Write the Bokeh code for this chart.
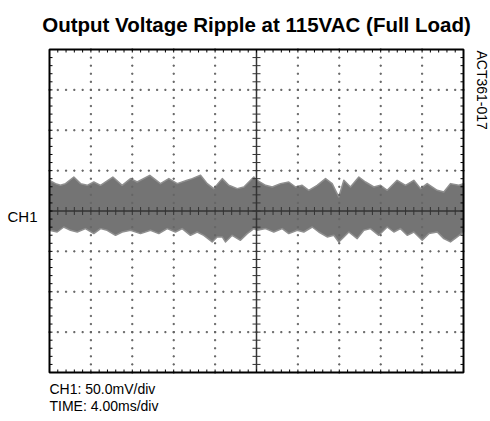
import numpy as np
from bokeh.plotting import figure
from bokeh.models import Range1d, Label
from bokeh.embed import file_html
from bokeh.resources import INLINE

# ---- texts ----
title_text = "Output Voltage Ripple at 115VAC (Full Load)"
ch_label = "CH1"
id_label = "ACT361-017"
scale_lines = ["CH1: 50.0mV/div", "TIME: 4.00ms/div"]

# ---- scope settings ----
ms_per_div = 4.0
mv_per_div = 50.0
x_divs = 10
y_divs = 8
sub_divs = 5

# ---- ripple envelope (time in ms, voltage in mV) ----
top_t = [0.0, 0.58, 1.06, 1.55, 2.35, 3.00, 3.64, 4.28, 4.93, 6.12, 7.02, 7.83, 8.47, 9.69,
         10.72, 11.53, 12.34, 13.30, 13.79, 14.59, 15.24, 15.87, 16.69, 17.32, 18.14, 18.78,
         19.74, 20.07, 20.87, 21.52, 22.32, 23.12, 23.77, 24.41, 25.05, 25.86, 26.67, 27.31,
         27.95, 28.44, 29.08, 29.89, 30.53, 31.34, 31.98, 32.63, 33.59, 34.40, 35.20, 35.85,
         36.49, 37.46, 38.10, 38.74, 39.55, 40.0]
top_mv = [38.0, 33.9, 31.8, 33.9, 42.1, 33.9, 31.8, 35.9, 31.8, 42.1, 31.8, 40.1, 35.9, 44.2,
          33.9, 40.1, 33.9, 38.0, 40.1, 44.2, 33.9, 27.7, 40.1, 31.8, 27.7, 29.7,
          42.1, 38.0, 31.8, 29.7, 33.9, 35.9, 29.7, 31.8, 25.6, 31.8, 40.1, 33.9,
          17.3, 38.0, 29.7, 42.1, 35.9, 29.7, 31.8, 25.6, 38.0, 31.8, 38.0, 27.7,
          33.9, 25.6, 23.5, 33.9, 31.8, 33.9]
bot_t = [0.0, 0.74, 1.38, 2.03, 2.68, 3.48, 4.28, 4.93, 5.57, 6.38, 7.02, 7.83, 8.79, 9.76,
         10.56, 11.37, 12.17, 12.82, 13.62, 14.27, 14.91, 15.72, 16.20, 16.69, 17.00, 17.65,
         18.45, 19.10, 19.74, 20.07, 20.87, 21.67, 22.48, 23.12, 23.93, 24.57, 25.38, 26.02,
         26.83, 27.47, 27.95, 28.44, 28.92, 29.73, 30.37, 31.01, 31.82, 32.63, 33.27, 33.91,
         34.56, 35.20, 36.01, 36.65, 37.46, 38.10, 38.74, 39.39, 40.0]
bot_mv = [-23.9, -26.0, -19.8, -23.9, -26.0, -21.8, -28.0, -21.8, -23.9, -30.1, -26.0, -23.9,
          -28.0, -23.9, -28.0, -21.8, -26.0, -21.8, -30.1, -26.0, -30.1, -38.3, -32.1, -32.1,
          -38.3, -30.1, -36.3, -28.0, -21.8, -23.9, -21.8, -26.0, -21.8, -28.0, -23.9, -26.0,
          -19.8, -26.0, -32.1, -30.1, -38.3, -32.1, -26.0, -34.2, -23.9, -21.8, -30.1, -19.8,
          -26.0, -21.8, -30.1, -26.0, -36.3, -28.0, -26.0, -34.2, -38.3, -32.1, -26.0]

FONT = "Liberation Sans"
W, H = 490, 421
# graticule box inside the canvas (pixels)
GL, GT, GW, GH = 49, 49, 414, 323

x_max = ms_per_div * x_divs
y_half = mv_per_div * y_divs / 2
px_x = GW / x_max          # pixels per ms
px_y = GH / (2 * y_half)   # pixels per mV

x_start = -GL / px_x
x_end = x_max + (W - GL - GW) / px_x
y_end = y_half + GT / px_y
y_start = -y_half - (H - GT - GH) / px_y

p = figure(width=W, height=H, output_backend="svg", toolbar_location=None,
           x_range=Range1d(x_start, x_end), y_range=Range1d(y_start, y_end),
           x_axis_location=None, y_axis_location=None,
           min_border_left=0, min_border_right=0, min_border_top=0, min_border_bottom=0)
p.grid.visible = False
p.outline_line_color = None
p.background_fill_color = "white"
p.border_fill_color = "white"

# ---- waveform band ----
xs = list(top_t) + list(reversed(bot_t))
ys = list(top_mv) + list(reversed(bot_mv))
p.patch(xs, ys, fill_color="#747474", line_color="#8f8f8f", line_width=1.5, line_join="round")

# ---- graticule: dotted division lines ----
sx = ms_per_div / sub_divs
sy = mv_per_div / sub_divs
dot_x, dot_y = [], []
for i in range(1, x_divs):
    if i == x_divs // 2:
        continue
    for yy in np.arange(-y_half, y_half + 1e-9, sy):
        dot_x.append(i * ms_per_div)
        dot_y.append(yy)
for j in range(1, y_divs):
    if j == y_divs // 2:
        continue
    for xx in np.arange(0, x_max + 1e-9, sx):
        dot_x.append(xx)
        dot_y.append(-y_half + j * mv_per_div)
p.rect(dot_x, dot_y, width=1.2, height=1.2, width_units="screen", height_units="screen",
       color="#666666")

# ---- center axes ----
p.segment(x0=[0, x_max / 2], y0=[0, -y_half], x1=[x_max, x_max / 2], y1=[0, y_half],
          line_color="#333333", line_width=1.5)

tick_half = 4
tx = np.arange(0, x_max + 1e-9, sx)
ty = np.arange(-y_half, y_half + 1e-9, sy)
p.segment(x0=tx, y0=-tick_half / px_y, x1=tx, y1=tick_half / px_y, line_color="#333333", line_width=1)
p.segment(x0=x_max / 2 - tick_half / px_x, y0=ty, x1=x_max / 2 + tick_half / px_x, y1=ty,
          line_color="#333333", line_width=1)

# ---- border ticks (inward) ----
bt = 3
p.segment(x0=tx, y0=y_half, x1=tx, y1=y_half - bt / px_y, line_color="black", line_width=1)
p.segment(x0=tx, y0=-y_half, x1=tx, y1=-y_half + bt / px_y, line_color="black", line_width=1)
p.segment(x0=0, y0=ty, x1=bt / px_x, y1=ty, line_color="black", line_width=1)
p.segment(x0=x_max, y0=ty, x1=x_max - bt / px_x, y1=ty, line_color="black", line_width=1)

# ---- graticule border ----
p.quad(left=0, right=x_max, bottom=-y_half, top=y_half, fill_color=None,
       line_color="black", line_width=2)

# ---- labels ----
p.add_layout(Label(x=x_max / 2, y=y_half + 25 / px_y, text=title_text, text_align="center",
                   text_baseline="alphabetic", text_font=FONT, text_font_size="20.5px",
                   text_font_style="bold", text_color="black"))
p.add_layout(Label(x=-12 / px_x, y=-5 / px_y, text=ch_label, text_align="right",
                   text_baseline="alphabetic", text_font=FONT, text_font_size="15px",
                   text_color="black"))
p.add_layout(Label(x=x_max + 18 / px_x, y=y_half - 1 / px_y, text=id_label, text_align="left",
                   text_baseline="middle", angle=-np.pi / 2, text_font=FONT,
                   text_font_size="14px", text_color="black"))
for k, line in enumerate(scale_lines):
    p.add_layout(Label(x=0, y=-y_half - (16 + 17 * k) / px_y, text=line, text_align="left",
                       text_baseline="alphabetic", text_font=FONT, text_font_size="14px",
                       text_color="black"))

open("out.html", "w").write(file_html(p, INLINE))
